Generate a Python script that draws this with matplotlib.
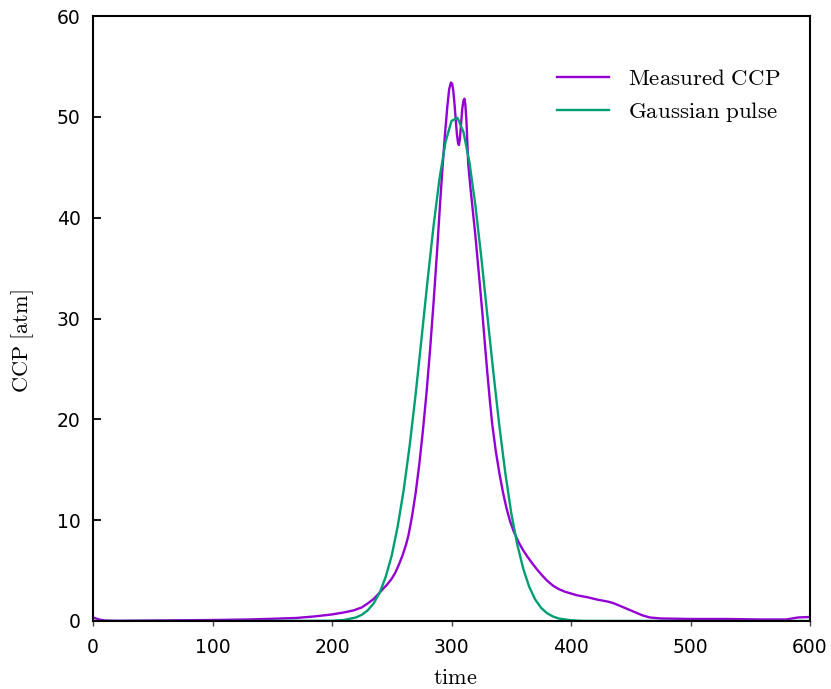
import numpy as np
import matplotlib
matplotlib.use("Agg")
import matplotlib.pyplot as plt

plt.rcParams['mathtext.fontset'] = 'cm'

# measured CCP
meas_t = [0, 5, 10, 20, 50, 100, 130, 150, 170, 185, 200, 210, 218, 225, 230,
          235, 239, 242, 246, 250, 253, 256, 259, 262, 264, 267, 270, 273,
          276, 279, 282, 285, 288, 290.5, 292.5, 294.5, 296.5, 298, 299.5,
          300.5, 301.5, 302.5, 303.5, 304.5, 305.5, 306.2, 307, 308, 309, 310,
          310.8, 311.6, 312.5, 314, 316, 318, 320, 322, 324, 326, 328, 330,
          332, 334, 337, 340, 343, 346, 349, 352, 356, 360, 364, 368, 372,
          376, 380, 385, 390, 395, 405, 414, 422, 431, 436, 442, 448, 454,
          460, 466, 475, 500, 530, 560, 580, 590, 600]
meas_ccp = [0.35, 0.15, 0.05, 0.02, 0.05, 0.1, 0.15, 0.22, 0.3, 0.45, 0.65,
            0.85, 1.05, 1.35, 1.75, 2.2, 2.7, 3.1, 3.6, 4.2, 4.8, 5.6, 6.5,
            7.6, 8.5, 10.4, 12.7, 15.5, 18.8, 22.5, 26.8, 31.6, 36.8, 41.5,
            45.0, 48.2, 51.0, 52.7, 53.4, 53.3, 52.6, 51.3, 49.8, 48.3, 47.4,
            47.2, 47.8, 49.3, 50.8, 51.6, 51.8, 51.2, 49.6, 45.3, 42.8, 40.5,
            38.2, 35.6, 33.0, 30.3, 27.4, 24.6, 22.0, 19.6, 16.9, 14.7, 12.8,
            11.2, 9.9, 8.9, 7.85, 7.0, 6.3, 5.65, 5.05, 4.5, 4.0, 3.5, 3.15,
            2.9, 2.55, 2.35, 2.12, 1.92, 1.75, 1.45, 1.15, 0.85, 0.55, 0.35,
            0.25, 0.2, 0.2, 0.15, 0.15, 0.35, 0.4]

# gaussian pulse
gauss_t = [0, 100, 200, 210, 220, 225, 230, 235, 240, 245, 250, 255, 260,
           265, 270, 275, 280, 285, 290, 295, 300, 305, 310, 315, 320, 325,
           330, 335, 340, 345, 350, 355, 360, 365, 370, 375, 380, 385, 390,
           400, 410, 500, 600]
gauss_ccp = [0.0, 0.0, 0.02, 0.1, 0.35, 0.62, 1.07, 1.77, 2.83, 4.4, 6.5,
             9.4, 13.0, 17.4, 22.5, 28.1, 33.8, 39.2, 43.9, 47.5, 49.6, 49.9,
             48.5, 45.5, 41.2, 36.0, 30.3, 24.7, 19.4, 14.7, 10.7, 7.6, 5.2,
             3.4, 2.14, 1.3, 0.77, 0.44, 0.24, 0.07, 0.01, 0.0, 0.0]

xticks = [0, 100, 200, 300, 400, 500, 600]
yticks = [0, 10, 20, 30, 40, 50, 60]

fig = plt.figure(figsize=(8.31, 6.89), dpi=100)
ax = fig.add_axes([93 / 831, 1 - 621 / 689, 717 / 831, 605 / 689])

ax.plot(meas_t, meas_ccp, color='#9400d3', lw=1.7, label=r'$\mathrm{Measured\ CCP}$')
ax.plot(gauss_t, gauss_ccp, color='#009e73', lw=1.7, label=r'$\mathrm{Gaussian\ pulse}$')

ax.set_xlim(0, 600)
ax.set_ylim(0, 60)
ax.set_xticks(xticks)
ax.set_yticks(yticks)
for s in ax.spines.values():
    s.set_linewidth(1.5)
ax.tick_params(axis='x', direction='out', length=3.5, width=1, color='#444444',
               labelsize=13.5, pad=9)
ax.tick_params(axis='y', direction='in', length=6, width=1.3,
               labelsize=13.5, pad=9)

ax.set_xlabel(r'$\mathrm{time}$', fontsize=16)
ax.set_ylabel(r'$\mathrm{CCP\ [atm]}$', fontsize=16)
ax.xaxis.set_label_coords(0.505, -0.078)
ax.yaxis.set_label_coords(-0.08, 0.463)

ax.legend(loc='upper right', bbox_to_anchor=(0.987, 0.95), frameon=False,
          fontsize=16.5, handlelength=2.3, handletextpad=0.8, labelspacing=0.45)

fig.savefig('out.png', dpi=100)
